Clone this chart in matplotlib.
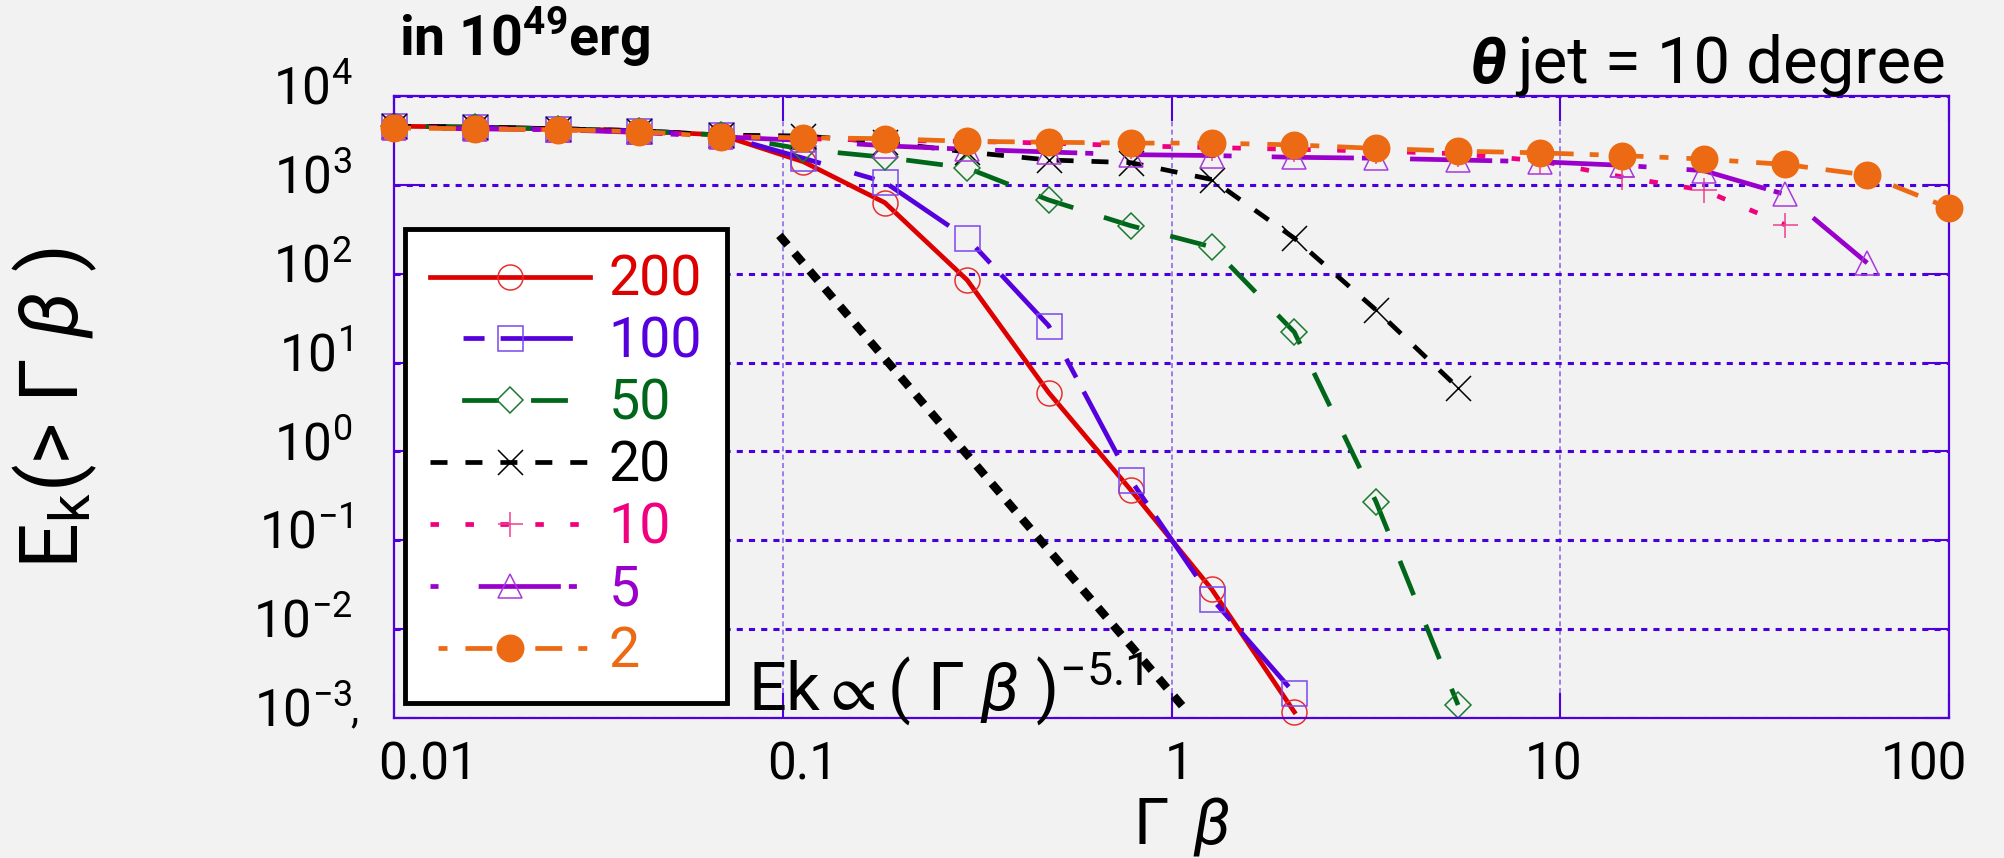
import numpy as np
import matplotlib
matplotlib.use("Agg")
import matplotlib.pyplot as plt
from matplotlib.ticker import NullLocator
from matplotlib.transforms import ScaledTranslation

nan = np.nan

# Gamma*beta sample points (x) and E_k(>Gamma beta) in 1e49 erg for each Gamma_0
gamma_beta = [0.01, 0.0162, 0.0264, 0.0428, 0.0695, 0.113, 0.183, 0.298, 0.483, 0.785,
              1.27, 2.07, 3.36, 5.46, 8.86, 14.4, 23.4, 37.9, 61.6, 100.0]

e_200 = [4570, 4470, 4270, 4070, 3630, 1820, 631, 85, 4.6, 0.37,
         0.028, 0.00117, nan, nan, nan, nan, nan, nan, nan, nan]
e_100 = [4570, 4470, 4270, 4070, 3630, 1995, 1072, 251, 26, 0.48,
         0.022, 0.0019, 1e-6, nan, nan, nan, nan, nan, nan, nan]
e_50 = [4570, 4470, 4270, 4070, 3630, 2512, 2042, 1549, 676, 347,
        200, 22, 0.27, 0.0014, nan, nan, nan, nan, nan, nan]
e_20 = [4570, 4470, 4270, 4070, 3630, 3548, 3020, 2344, 1905, 1778,
        1148, 251, 39, 5.2, nan, nan, nan, nan, nan, nan]
e_10 = [4470, 4370, 4170, 3980, 3550, 3311, 3162, 3090, 2951, 2754,
        2630, 2512, 2399, 2239, 1862, 1230, 871, 355, nan, nan]
e_5 = [4370, 4270, 4170, 3890, 3470, 3162, 2754, 2512, 2344, 2188,
       2138, 2042, 1995, 1905, 1820, 1660, 1445, 780, 132, nan]
e_2 = [4370, 4270, 4170, 3980, 3470, 3388, 3311, 3090, 3020, 2951,
       2951, 2818, 2570, 2399, 2291, 2138, 1950, 1698, 1288, 550]

series = [e_200, e_100, e_50, e_20, e_10, e_5, e_2]
labels = ["200", "100", "50", "20", "10", "5", "2"]

# power law guide Ek ~ (Gamma beta)^-5.1
pl_x = [0.098, 1.08]
pl_y = [270, 0.00128]

colors = ["#dd0000", "#5500dd", "#00661a", "#000000", "#f0007f", "#9a00cc", "#ec6a14"]
edge_colors = ["#e83030", "#7a48f0", "#1a7a30", "#000000", "#f04090", "#a838dc", "#ec6a14"]
dashes = ["-",
          (15.7, (15.3, 7.4, 4.45, 3.4)),
          (7.9, (7.8, 6.8)),
          (0, (3.6, 3.8)),
          (0, (1.8, 5.6)),
          (19.1, (17.4, 1.7, 1.7, 8.5)),
          (7.4, (5.7, 3.4, 1.9, 3.8))]
markers = ["o", "s", "D", "x", "+", "^", "o"]
msizes = [18, 18, 13, 18, 18, 17, 19]
filled = [False, False, False, False, False, False, True]

plt.rcParams["font.family"] = ["Roboto", "DejaVu Sans"]
plt.rcParams["mathtext.fontset"] = "custom"
plt.rcParams["mathtext.rm"] = "Roboto"
plt.rcParams["mathtext.it"] = "Roboto:italic"
plt.rcParams["mathtext.bf"] = "Roboto:bold"
plt.rcParams["mathtext.fallback"] = "stix"
plt.rcParams["axes.unicode_minus"] = False

W, H = 2004, 858
bg = "#f2f2f2"
frame_col = "#5000dd"

fig = plt.figure(figsize=(W / 100, H / 100), dpi=100, facecolor=bg)
ax = fig.add_axes([394 / W, 1 - 718 / H, 1555 / W, 622 / H], facecolor=bg)

ax.set_xscale("log")
ax.set_yscale("log")
ax.set_xlim(0.01, 100)
ax.set_ylim(1e-3, 1e4)

# grid
ax.grid(axis="y", which="major", color="#4a00dd", ls=(0, (2, 2)), lw=2.2, zorder=1)
ax.grid(axis="x", which="major", color="#8c6ae8", ls=(0, (3, 2)), lw=1.2, zorder=1)
ax.set_axisbelow(True)

for sp in ax.spines.values():
    sp.set_color(frame_col)
    sp.set_linewidth(1.6)

ax.plot(pl_x, pl_y, color="black", lw=6, ls=(0, (1.5, 1.3)), zorder=1.5)

handles = []
for i, (y, lab) in enumerate(zip(series, labels)):
    ln, = ax.plot(gamma_beta, y, color=colors[i], lw=3.4, ls=dashes[i], zorder=2 + i * 0.1)
    mk, = ax.plot(gamma_beta, y, ls="none", marker=markers[i], ms=msizes[i],
                  mec=edge_colors[i], mew=1.1,
                  mfc=colors[i] if filled[i] else "none",
                  clip_on=False, zorder=2.05 + i * 0.1)
    handles.append((ln, mk))

leg = ax.legend(handles, labels, loc="upper left",
                bbox_to_anchor=((405 - 394) / 1555, (718 - 229) / 622),
                borderaxespad=0, fontsize=40, numpoints=1,
                handlelength=2.88, handletextpad=0.33, borderpad=0.45,
                labelspacing=0.16, fancybox=False, framealpha=1,
                edgecolor="black", facecolor="white", labelcolor=colors)
leg.get_frame().set_linewidth(3.5)
leg.set_zorder(10)

# ticks
ax.set_yticks([1e-3, 1e-2, 1e-1, 1, 10, 100, 1e3, 1e4])
ax.set_xticks([0.01, 0.1, 1, 10, 100], labels=["0.01", "0.1", "1", "10", "100"])
ax.xaxis.set_minor_locator(NullLocator())
ax.yaxis.set_minor_locator(NullLocator())
ax.tick_params(which="major", direction="in", length=18, width=1.5, color=frame_col,
               top=True, right=True, labelsize=37)
ax.tick_params(axis="x", pad=16)
ax.tick_params(axis="y", pad=30)

x_shift = [34, 20, 8, -7, -25]
for lbl, dx in zip(ax.get_xticklabels(), x_shift):
    lbl.set_transform(lbl.get_transform() + ScaledTranslation(dx / 100, 0, fig.dpi_scale_trans))
for lbl in ax.get_yticklabels():
    lbl.set_transform(lbl.get_transform() + ScaledTranslation(0, 11 / 100, fig.dpi_scale_trans))

# texts
fig.text(399 / W, 1 - 55 / H, r"in 10$^{\mathbf{49}}$erg", fontsize=40, fontweight="bold",
         ha="left", va="baseline")
t_jet = fig.text(1946 / W, 1 - 82 / H, "jet = 10 degree", fontsize=47,
                 ha="right", va="baseline")
ax.annotate("θ", xy=(0, 0), xycoords=t_jet, xytext=(-7, 0), textcoords="offset points",
            ha="right", va="bottom", fontsize=47, fontstyle="italic", fontweight="bold",
            annotation_clip=False)

fig.text(1181 / W, 1 - 844 / H, r"Γ $\,\beta$", fontsize=46, ha="center", va="baseline")
fig.text(55 / W, 1 - 408 / H, r"E$_{\rm k}$(> Γ $\beta$ )", fontsize=58, rotation=90,
         ha="center", va="center")
fig.text(748 / W, 1 - 710 / H, r"Ek$\propto$( Γ $\beta$ )$^{-5.1}$", fontsize=48,
         ha="left", va="baseline")
fig.text(350 / W, 1 - 722 / H, ",", fontsize=30, ha="left", va="baseline")

fig.savefig("out.png", dpi=100, facecolor=bg)
